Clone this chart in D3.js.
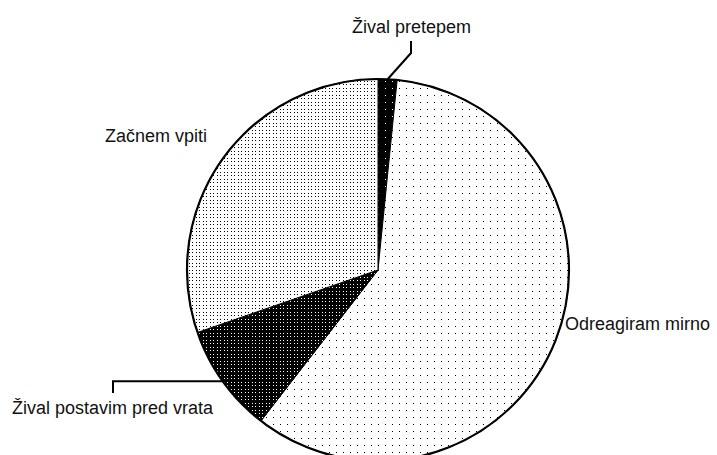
<!DOCTYPE html>
<html>
<head>
<meta charset="utf-8">
<script src="https://cdn.jsdelivr.net/npm/d3@7"></script>
<style>
  body { margin: 0; background: #fff; }
  text { font-family: "Liberation Sans", Arial, sans-serif; font-size: 18px; fill: #111; }
</style>
</head>
<body>
<div id="chart"></div>
<script>
// answers, clockwise from the top
var categories = ["Žival pretepem", "Odreagiram mirno", "Žival postavim pred vrata", "Začnem vpiti"];
var values = [1.6, 58.9, 9.2, 30.3];
var patterns = ["blackSparse", "sparse", "blackDense", "dense"];

var svgWidth = 717;
var svgHeight = 455;
var cx = 378, cy = 270, radius = 191;

var svg = d3.select("#chart")
    .append("svg")
    .attr("width", svgWidth)
    .attr("height", svgHeight);

var defs = svg.append("defs");

function makePattern(id, size, bg, fg, dots) {
    var p = defs.append("pattern")
        .attr("id", id)
        .attr("patternUnits", "userSpaceOnUse")
        .attr("width", size)
        .attr("height", size);
    p.append("rect").attr("width", size).attr("height", size).attr("fill", bg);
    dots.forEach(function (d) {
        p.append("rect").attr("x", d[0]).attr("y", d[1])
            .attr("width", 1).attr("height", 1).attr("fill", fg);
    });
}
makePattern("sparse", 7, "#fff", "#000", [[0, 0]]);
makePattern("blackSparse", 7, "#000", "#fff", [[0, 0]]);
makePattern("dense", 7, "#fff", "#000", [[0, 0], [3, 0], [0, 3], [3, 3]]);
makePattern("blackDense", 7, "#000", "#fff", [[0, 0], [3, 0], [0, 3], [3, 3]]);

var pie = d3.pie().sort(null).value(d => d);
var arcs = pie(values);

var arc = d3.arc().innerRadius(0).outerRadius(radius);

var g = svg.append("g")
    .attr("transform", `translate(${cx}, ${cy})`);

g.selectAll("path.slice")
    .data(arcs)
    .enter()
    .append("path")
    .attr("class", "slice")
    .attr("d", arc)
    .attr("fill", (d, i) => `url(#${patterns[i]})`)
    .attr("stroke", "#000")
    .attr("stroke-width", 1);

g.append("circle")
    .attr("r", radius)
    .attr("fill", "none")
    .attr("stroke", "#000")
    .attr("stroke-width", 2.2);

// point on the rim at the middle of a slice
function rim(d) {
    var a = (d.startAngle + d.endAngle) / 2;
    return [cx + radius * Math.sin(a), cy - radius * Math.cos(a)];
}

// label placement
var labelPos = [
    { x: 352, y: 33 },
    { x: 565, y: 330 },
    { x: 12, y: 414 },
    { x: 105, y: 142 }
];

svg.selectAll("text.label")
    .data(categories)
    .enter()
    .append("text")
    .attr("class", "label")
    .attr("x", (d, i) => labelPos[i].x)
    .attr("y", (d, i) => labelPos[i].y)
    .text(d => d);

// leader lines
var p0 = rim(arcs[0]);
svg.append("path")
    .attr("d", `M411,41 L411,53 L${p0[0]},${p0[1]}`)
    .attr("fill", "none")
    .attr("stroke", "#000")
    .attr("stroke-width", 2);

var p2 = rim(arcs[2]);
svg.append("path")
    .attr("d", `M113,393 L113,${p2[1]} L${p2[0]},${p2[1]}`)
    .attr("fill", "none")
    .attr("stroke", "#000")
    .attr("stroke-width", 2);
</script>
</body>
</html>
